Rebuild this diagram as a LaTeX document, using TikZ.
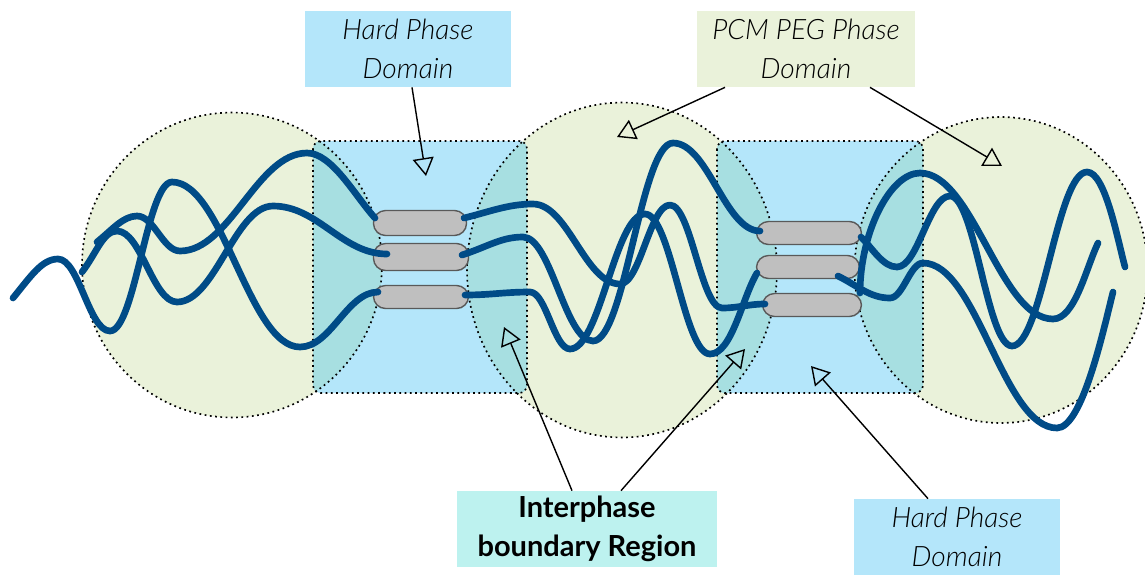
\documentclass[tikz,border=0pt]{standalone}
\usepackage{fontspec}
\setsansfont{Lato}
\IfFontExistsTF{Lato Light Italic}
  {\newfontfamily\tagfont{Lato Light Italic}}
  {\newfontfamily\tagfont{Lato Italic}}
\usetikzlibrary{positioning, arrows.meta}

\definecolor{pegfill}{HTML}{EAF2DA}
\definecolor{hardfill}{HTML}{B4E6FA}
\definecolor{mixfill}{HTML}{A7DFE1}
\definecolor{tagfill}{HTML}{BDF2EF}
\definecolor{chain}{HTML}{004B87}
\definecolor{segfill}{HTML}{BFBFBF}
\definecolor{segline}{HTML}{595959}

\begin{document}
\begin{tikzpicture}[
  x=0.02cm, y=-0.02cm,
  outl/.style={draw=black, line width=0.95pt, dash pattern=on 1pt off 2pt},
  hseg/.style={draw=segline, fill=segfill, line width=0.8pt,
               rounded corners=0.24cm, inner sep=0pt},
  chn/.style={draw=chain, line width=3.8pt, line cap=round, line join=round},
  tag/.style={minimum width=4.12cm, minimum height=1.52cm, align=center,
              inner sep=0pt, font=\fontsize{16}{22}\selectfont\tagfont},
  ptr/.style={-{Triangle[open, length=0.36cm, width=0.42cm]}, line width=0.8pt},
]
\useasboundingbox (0,0) rectangle (1145,579);

%% soft (PEG) domains and hard domains
\def\pegA{(232,265) ellipse [x radius=3cm, y radius=3.05cm]}
\def\pegB{(622,270) ellipse [x radius=3.1cm, y radius=3.35cm]}
\def\pegC{(1001,270) ellipse [x radius=2.93cm, y radius=3.06cm]}
\def\hardA{[rounded corners=0.16cm] (313,141) rectangle (527,393)}
\def\hardB{[rounded corners=0.16cm] (717,141) rectangle (923,393)}

\fill[pegfill] \pegA;
\fill[pegfill] \pegB;
\fill[pegfill] \pegC;
\fill[hardfill] \hardA;
\fill[hardfill] \hardB;

%% interphase: where a hard box runs into a soft domain
\begin{scope}\clip \pegA; \fill[mixfill] \hardA; \end{scope}
\begin{scope}\clip \pegB; \fill[mixfill] \hardA; \end{scope}
\begin{scope}\clip \pegB; \fill[mixfill] \hardB; \end{scope}
\begin{scope}\clip \pegC; \fill[mixfill] \hardB; \end{scope}

\draw[outl] \pegA;
\draw[outl] \pegB;
\draw[outl] \pegC;
\draw[outl] \hardA;
\draw[outl] \hardB;

%% hard segments
\node[hseg, minimum width=1.86cm, minimum height=0.5cm]  (sA1) at (420,223) {};
\node[hseg, minimum width=1.9cm,  minimum height=0.54cm] (sA2) at (421,257) {};
\node[hseg, minimum width=1.9cm,  minimum height=0.46cm] (sA3) at (421,297) {};
\node[hseg, minimum width=2.1cm,  minimum height=0.46cm] (sB1) at (809,233) {};
\node[hseg, minimum width=2.06cm, minimum height=0.46cm] (sB2) at (808,267) {};
\node[hseg, minimum width=1.98cm, minimum height=0.46cm] (sB3) at (812,305) {};

%% soft chains, left domain: one bend per half wave
\draw[chn] (13,298) .. controls +(18,-22) and +(-16,0) .. (58,259)
  .. controls +(21,0) and +(-21,0) .. (110,331)
  .. controls +(25,0) and +(-25,0) .. (172,182)
  .. controls +(51,0) and +(-51,0) .. (300,347)
  .. controls +(31,0) and +(-31,0) .. (378,292);
\draw[chn] (82,272) .. controls +(14,-18) and +(-14,0) .. (117,231)
  .. controls +(24,0) and +(-24,0) .. (177,302)
  .. controls +(38,0) and +(-38,0) .. (273,206)
  .. controls +(45,0) and +(-45,0) .. (387,254);
\draw[chn] (97,242) .. controls +(15,-12) and +(-14,0) .. (137,216)
  .. controls +(17,0) and +(-17,0) .. (180,251)
  .. controls +(50,0) and +(-50,0) .. (307,153)
  .. controls +(25,0) and +(-20,-22) .. (375,218);

%% middle domain
\draw[chn] (464,218) .. controls +(25,-6) and +(-25,0) .. (533,204)
  .. controls +(35,0) and +(-35,0) .. (620,284)
  .. controls +(20,0) and +(-20,0) .. (670,205)
  .. controls +(21,0) and +(-21,0) .. (722,308)
  .. controls +(17,0) and +(-17,0) .. (765,304);
\draw[chn] (462,255) .. controls +(25,-8) and +(-22,0) .. (523,237)
  .. controls +(28,0) and +(-28,0) .. (593,341)
  .. controls +(32,0) and +(-32,0) .. (673,143)
  .. controls +(35,0) and +(-35,0) .. (760,231);
\draw[chn] (465,295) .. controls +(26,0) and +(-26,0) .. (530,292)
  .. controls +(16,0) and +(-16,0) .. (570,349)
  .. controls +(30,0) and +(-30,0) .. (645,214)
  .. controls +(26,0) and +(-26,0) .. (710,354)
  .. controls +(22,0) and +(-15,25) .. (757,273);

%% right domain
\draw[chn] (861,237) .. controls +(12,12) and +(-14,0) .. (897,267)
  .. controls +(21,0) and +(-21,0) .. (950,196)
  .. controls +(25,0) and +(-25,0) .. (1012,346)
  .. controls +(30,0) and +(-30,0) .. (1087,172)
  .. controls +(18,0) and +(-8,-30) .. (1125,267);
\draw[chn] (860,293) .. controls +(0,-60) and +(-30,0) .. (920,173)
  .. controls +(53,0) and +(-53,0) .. (1053,319)
  .. controls +(22,0) and +(-12,25) .. (1098,243);
\draw[chn] (838,276) .. controls +(20,10) and +(-20,0) .. (890,298)
  .. controls +(13,0) and +(-13,0) .. (923,263)
  .. controls +(54,0) and +(-54,0) .. (1057,428)
  .. controls +(25,0) and +(-10,40) .. (1113,292);

%% labels
\node[tag, fill=hardfill] (hardtop) at (408,49) {Hard Phase\\Domain};
\node[tag, fill=pegfill, minimum width=4.36cm] (pegtop) at (806,49)
  {PCM PEG Phase\\Domain};
\node[tag, fill=tagfill, minimum width=5.2cm,
      font=\fontsize{16.5}{22}\selectfont\sffamily\bfseries] (inter) at (587,529)
  {Interphase\\boundary Region};
\node[tag, fill=hardfill] (hardbot) at (957,537) {Hard Phase\\Domain};

\coordinate (tipA) at (426,176);
\coordinate (tipB) at (617,137);
\coordinate (tipC) at (1002,166);
\coordinate (tipD) at (504,327);
\coordinate (tipE) at (745,349);
\coordinate (tipF) at (811,366);

\draw[ptr] ([xshift=0.08cm]hardtop.south) -- (tipA);
\draw[ptr] ([xshift=-1.62cm]pegtop.south) -- (tipB);
\draw[ptr] ([xshift=1.28cm]pegtop.south) -- (tipC);
\draw[ptr] ([xshift=-0.3cm]inter.north) -- (tipD);
\draw[ptr] ([xshift=0.68cm]inter.north) -- (tipE);
\draw[ptr] ([xshift=-0.58cm]hardbot.north) -- (tipF);
\end{tikzpicture}
\end{document}
